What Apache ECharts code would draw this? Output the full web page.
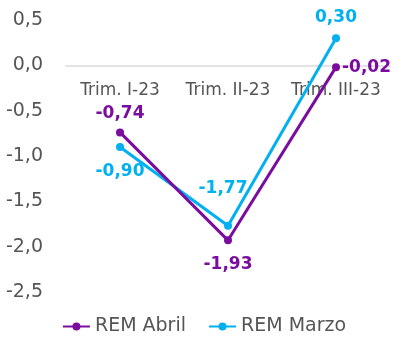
<!DOCTYPE html>
<html>
<head>
<meta charset="utf-8">
<script src="https://cdn.jsdelivr.net/npm/echarts@6/dist/echarts.min.js"></script>
<style>
  html, body { margin: 0; padding: 0; background: #fff; }
  #chart { width: 408px; height: 351px; }
</style>
</head>
<body>
<div id="chart"></div>
<script>
var categories = ['Trim. I-23', 'Trim. II-23', 'Trim. III-23'];
var remAbril = [-0.74, -1.93, -0.02];
var remMarzo = [-0.90, -1.77, 0.30];

var purple = '#7A0C9E';
var cyan = '#00B0F0';
var fontName = '"DejaVu Sans", sans-serif';

function fmt2(v) {
    return v.toFixed(2).replace('.', ',');
}

var myChart = echarts.init(document.getElementById('chart'));
myChart.setOption({
    animation: false,
    grid: { left: 66, right: 18, top: 20, bottom: 59 },
    legend: {
        bottom: 10,
        left: 'center',
        itemWidth: 27,
        itemHeight: 10,
        itemGap: 22,
        textStyle: { fontFamily: fontName, fontSize: 19, color: '#555' },
        data: ['REM Abril', 'REM Marzo']
    },
    xAxis: {
        type: 'category',
        data: categories,
        position: 'bottom',
        offset: -226, // linea del eje en y = 0
        axisLine: { onZero: false, lineStyle: { color: '#e3e3e3', width: 2 } },
        axisTick: { show: false },
        axisLabel: { interval: 0, margin: 16, fontFamily: fontName, fontSize: 17, color: '#555' }
    },
    yAxis: {
        type: 'value',
        min: -2.5,
        max: 0.5,
        interval: 0.5,
        splitLine: { show: false },
        axisLine: { show: false },
        axisLabel: {
            margin: 23,
            fontFamily: fontName, fontSize: 19, color: '#555',
            formatter: function (v) { return v.toFixed(1).replace('.', ','); }
        }
    },
    series: [{
        name: 'REM Abril',
        type: 'line',
        data: remAbril.map(function (v, i) {
            var lbl = [
                { position: 'top', distance: 6 },
                { position: 'bottom', distance: 12 },
                { position: 'right', distance: 2 }
            ][i];
            return { value: v, label: lbl };
        }),
        color: purple,
        lineStyle: { width: 3 },
        symbol: 'circle',
        symbolSize: 8,
        label: {
            show: true,
            fontFamily: fontName, fontSize: 17, fontWeight: 'bold', color: purple,
            formatter: function (p) { return fmt2(p.value); }
        },
        z: 3
    }, {
        name: 'REM Marzo',
        type: 'line',
        data: remMarzo.map(function (v, i) {
            var lbl = [
                { position: 'bottom', distance: 12 },
                { position: 'top', distance: 25, offset: [-5, 0] },
                { position: 'top', distance: 8 }
            ][i];
            return { value: v, label: lbl };
        }),
        color: cyan,
        lineStyle: { width: 3 },
        symbol: 'circle',
        symbolSize: 8,
        label: {
            show: true,
            fontFamily: fontName, fontSize: 17, fontWeight: 'bold', color: cyan,
            formatter: function (p) { return fmt2(p.value); }
        },
        z: 2
    }]
});
</script>
</body>
</html>
